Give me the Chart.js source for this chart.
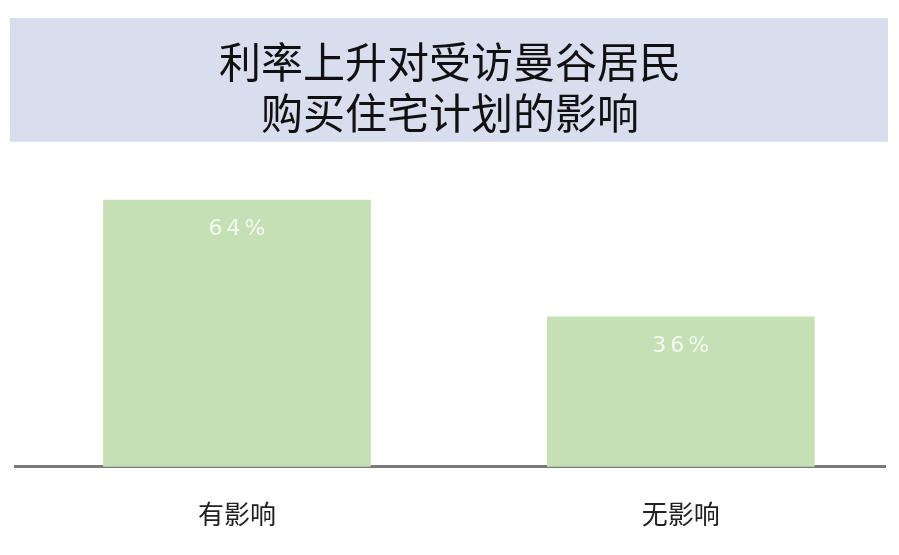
<!DOCTYPE html>
<html lang="zh">
  <head>
    <meta charset="UTF-8" />
    <title>利率上升对受访曼谷居民购买住宅计划的影响</title>
    <script src="https://cdn.jsdelivr.net/npm/chart.js"></script>
    <style>
      body {
        margin: 0;
        background: #fff;
      }
      .wrap {
        position: relative;
        width: 899px;
        height: 555px;
      }
    </style>
  </head>
  <body>
    <div class="wrap">
      <canvas id="chart"></canvas>
    </div>

    <script>
      // Data
      const titleLines = ["利率上升对受访曼谷居民", "购买住宅计划的影响"];
      const categories = ["有影响", "无影响"];
      const shares = [64, 36];

      const cjk = '"Noto Sans CJK SC", "Noto Sans", sans-serif';

      // light blue band behind the title
      const titleBand = {
        id: "titleBand",
        beforeDraw(chart) {
          const tb = chart.titleBlock;
          const ctx = chart.ctx;
          ctx.save();
          ctx.fillStyle = "#d8deee";
          ctx.fillRect(10, tb.top, chart.width - 21, tb.height);
          ctx.restore();
        },
      };

      // percentage labels inside the bars
      const barLabels = {
        id: "barLabels",
        afterDatasetsDraw(chart) {
          const ctx = chart.ctx;
          const meta = chart.getDatasetMeta(0);
          ctx.save();
          ctx.font = '22px "DejaVu Sans", sans-serif';
          ctx.fillStyle = "rgba(255, 255, 255, 0.8)";
          ctx.textAlign = "center";
          ctx.textBaseline = "middle";
          if ("letterSpacing" in ctx) ctx.letterSpacing = "4px";
          meta.data.forEach((bar, i) => {
            ctx.fillText(shares[i] + "%", bar.x + 2, bar.y + 29);
          });
          ctx.restore();
        },
      };

      new Chart(document.getElementById("chart"), {
        type: "bar",
        data: {
          datasets: [
            {
              data: shares.map((v, i) => ({ x: i, y: v })),
              backgroundColor: "#c5e0b4",
              barThickness: 267,
            },
          ],
        },
        options: {
          responsive: true,
          maintainAspectRatio: false,
          animation: false,
          layout: {
            padding: { top: 18, left: 15, right: 14, bottom: -7 },
          },
          scales: {
            x: {
              type: "linear",
              offset: false,
              min: -0.5,
              max: 1.46,
              grid: { display: false, drawTicks: false },
              border: { color: "#7a7a7a", width: 3 },
              afterBuildTicks(scale) {
                scale.ticks = categories.map((c, i) => ({ value: i }));
              },
              ticks: {
                padding: 32,
                color: "#222",
                font: { family: cjk, size: 26 },
                callback: (v) => categories[v],
              },
            },
            y: {
              display: false,
              min: 0,
              max: 78,
            },
          },
          plugins: {
            legend: { display: false },
            tooltip: { enabled: false },
            title: {
              display: true,
              text: titleLines,
              color: "#111",
              font: { family: cjk, size: 42, weight: "normal", lineHeight: 1.2 },
              padding: { top: 19, bottom: 4 },
            },
          },
        },
        plugins: [titleBand, barLabels],
      });
    </script>
  </body>
</html>
